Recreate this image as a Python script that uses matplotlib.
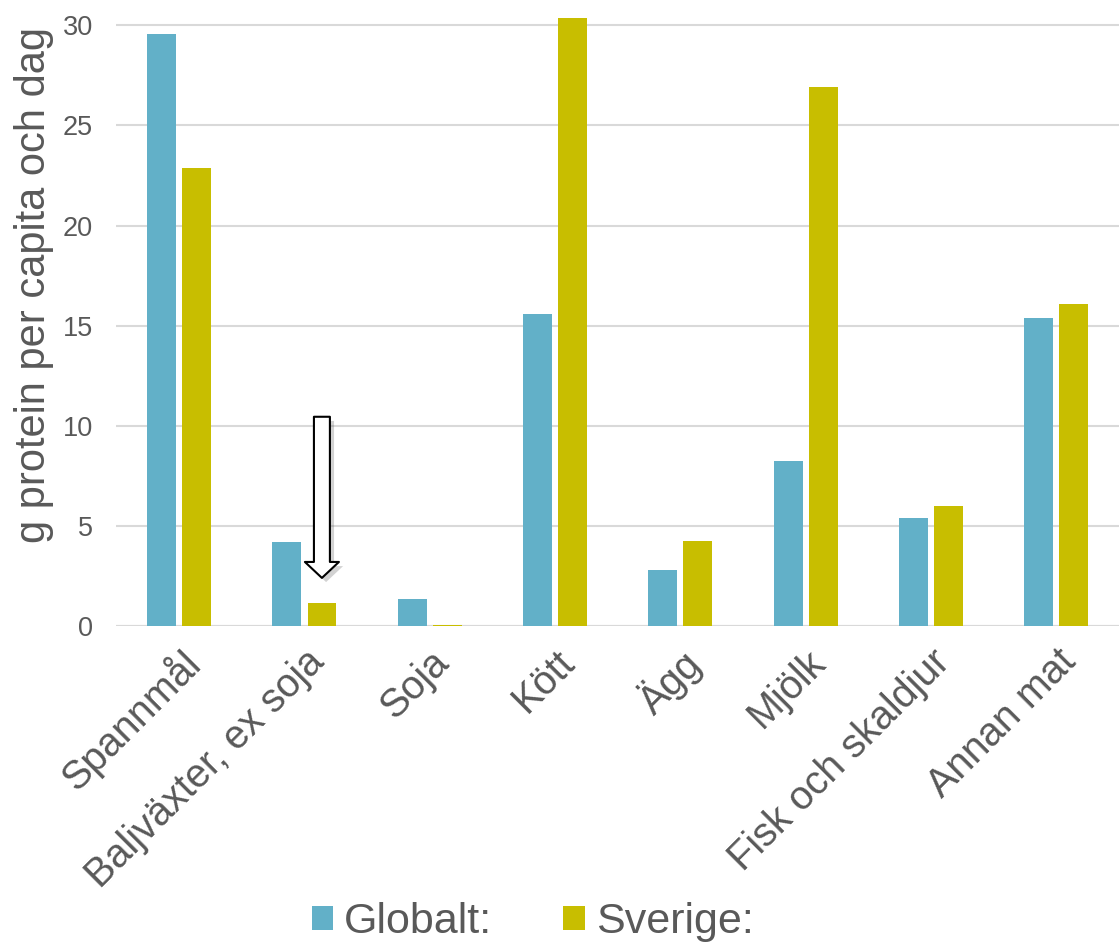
import matplotlib
matplotlib.use("Agg")
import matplotlib.pyplot as plt
import matplotlib.patheffects as pe
import numpy as np

categories = ["Spannmål", "Baljväxter, ex soja", "Soja", "Kött", "Ägg", "Mjölk",
              "Fisk och skaldjur", "Annan mat"]
globalt = [29.55, 4.2, 1.35, 15.6, 2.8, 8.25, 5.4, 15.4]
sverige = [22.9, 1.15, 0.05, 30.35, 4.25, 26.9, 6.0, 16.1]
series_names = ["Globalt:", "Sverige:"]
yticks = [0, 5, 10, 15, 20, 25, 30]

plt.rcParams['font.family'] = ['Liberation Sans', 'DejaVu Sans']
txt = "#595959"
c_glob = "#62B0C8"
c_sve = "#C8BE00"

fig = plt.figure(figsize=(11.19, 9.47), dpi=100)
ax = fig.add_axes([0.104, 0.339, 0.896, 0.649])

x = np.arange(len(categories))
w = 0.23
off = 0.14
ax.bar(x - off, globalt, w, color=c_glob, label=series_names[0], clip_on=False, zorder=3)
ax.bar(x + off, sverige, w, color=c_sve, label=series_names[1], clip_on=False, zorder=3)

ax.set_xlim(-0.5, len(categories) - 0.5)
ax.set_ylim(0, 30.7)
ax.set_yticks(yticks)
ax.grid(axis='y', color='#d9d9d9', linewidth=1.5, zorder=0)
ax.set_axisbelow(True)
for s in ax.spines.values():
    s.set_visible(False)
ax.axhline(0, color='#d9d9d9', linewidth=1.5, zorder=1)
ax.tick_params(length=0)
ax.tick_params(axis='y', labelsize=19.5, labelcolor=txt, pad=17)
ax.set_xticks(x)
ax.set_xticklabels(categories, rotation=45, ha='right', rotation_mode='anchor',
                   fontsize=28.5, color=txt)
ax.tick_params(axis='x', pad=12)
ax.set_ylabel("g protein per capita och dag", fontsize=30, color=txt)
ax.yaxis.set_label_coords(-0.062, 0.555)

# arrow
ax.annotate("", xy=(1 + off, 2.4), xytext=(1 + off, 10.45),
            arrowprops=dict(arrowstyle="simple,head_width=2.45,head_length=1.15,tail_width=1.15",
                            fc="white", ec="black", lw=1.5,
                            shrinkA=0, shrinkB=0,
                            path_effects=[pe.SimplePatchShadow(offset=(3, -3), alpha=0.25),
                                          pe.Normal()]),
            zorder=5)

leg = fig.legend(loc='center', bbox_to_anchor=(0.476, 0.026), ncol=2, frameon=False,
                 fontsize=31, handlelength=0.5, handleheight=0.5, handletextpad=0.25,
                 columnspacing=1.65, labelcolor=txt)

fig.savefig("out.png", dpi=100)
